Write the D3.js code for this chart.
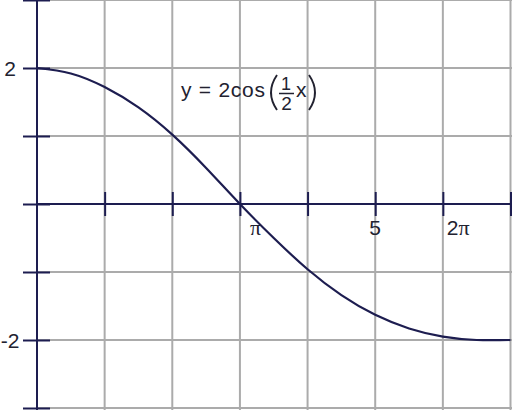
<!DOCTYPE html>
<html>
<head>
<meta charset="utf-8">
<script src="https://cdn.jsdelivr.net/npm/d3@7"></script>
<style>
  html, body { margin: 0; padding: 0; background: #fff; }
  svg { display: block; }
</style>
</head>
<body>
<svg id="chart" width="512" height="410"></svg>
<script>
// ---- data ----
const curveX = [0, 0.5, 1, 1.5, 2, 2.5, 3, 3.5, 4, 4.5, 5, 5.5, 6, 6.5, 7];
const curveY = [2.0, 1.92, 1.72, 1.42, 1.02, 0.53, 0.0, -0.50, -0.96, -1.34, -1.63, -1.83, -1.95, -2.0, -2.0];
const xTicks = [1, 2, 3, 4, 5, 6, 7];
const yTicks = [-3, -2, -1, 0, 1, 2, 3];
const xLabelValues = [3, 5, 6];
const xLabelTexts = [["", "π"], ["5", ""], ["2", "π"]];
const yLabelValues = [2, -2];
const yLabelTexts = ["2", "-2"];
const eqText = "y = 2cos";
const eqNum = "1";
const eqDen = "2";
const eqVar = "x";

// ---- drawing ----
const W = 512, H = 410;
const ink = "#1d1d50";
const textCol = "#222230";
const gridCol = "#ababab";
const sans = "'Liberation Sans', Arial, sans-serif";
const serif = "'Liberation Serif', 'Times New Roman', serif";

const svg = d3.select("#chart");
const x = d3.scaleLinear().domain([0, 7]).range([37, 510.5]);
const y = d3.scaleLinear().domain([-3, 3]).range([408, 0]);

// grid
const grid = svg.append("g");
grid.selectAll("line.v").data(xTicks).join("line")
  .attr("x1", d => x(d)).attr("x2", d => x(d))
  .attr("y1", 0).attr("y2", H)
  .attr("stroke", gridCol).attr("stroke-width", 2);
grid.selectAll("line.h").data(yTicks).join("line")
  .attr("x1", x(0)).attr("x2", W)
  .attr("y1", d => y(d)).attr("y2", d => y(d))
  .attr("stroke", gridCol).attr("stroke-width", 2);

// x axis
const xAxis = svg.append("g")
  .attr("transform", `translate(0,${y(0)})`)
  .call(d3.axisBottom(x).tickValues(xTicks).tickSize(12).tickFormat(""));
xAxis.select(".domain").remove();
xAxis.selectAll(".tick line").attr("y1", -12).attr("y2", 12)
  .attr("stroke", ink).attr("stroke-width", 2);
svg.append("line")
  .attr("x1", x(0)).attr("x2", W)
  .attr("y1", y(0)).attr("y2", y(0))
  .attr("stroke", ink).attr("stroke-width", 2);

// y axis
const yAxis = svg.append("g")
  .attr("transform", `translate(${x(0)},0)`)
  .call(d3.axisLeft(y).tickValues(yTicks).tickSize(13).tickFormat(""));
yAxis.select(".domain").remove();
yAxis.selectAll(".tick line").attr("x1", -14).attr("x2", 13)
  .attr("stroke", ink).attr("stroke-width", 2);
svg.append("line")
  .attr("x1", x(0)).attr("x2", x(0))
  .attr("y1", 0).attr("y2", H)
  .attr("stroke", ink).attr("stroke-width", 2);

// curve
const pts = curveX.map((d, i) => [d, curveY[i]]);
svg.append("path")
  .datum(pts)
  .attr("fill", "none")
  .attr("stroke", ink)
  .attr("stroke-width", 2.2)
  .attr("d", d3.line().x(d => x(d[0])).y(d => y(d[1])).curve(d3.curveNatural));

// x labels
const xl = svg.append("g").attr("fill", textCol);
xLabelValues.forEach((v, i) => {
  const [num, sym] = xLabelTexts[i];
  const t = xl.append("text")
    .attr("y", y(0) + 31)
    .attr("font-size", 21);
  if (sym === "") {
    t.attr("x", x(v)).attr("text-anchor", "middle")
     .attr("font-family", sans).text(num);
  } else {
    t.attr("x", x(v) + (num ? 4 : 10)).attr("text-anchor", "start");
    if (num) t.append("tspan").attr("font-family", sans).text(num);
    t.append("tspan").attr("font-family", serif).attr("font-size", 22).text(sym);
  }
});

// y labels
svg.append("g").selectAll("text").data(yLabelValues).join("text")
  .attr("x", 10).attr("y", d => y(d) + 8)
  .attr("text-anchor", "middle")
  .attr("font-family", sans).attr("font-size", 21)
  .attr("fill", textCol)
  .text((d, i) => yLabelTexts[i]);

// equation
const eq = svg.append("g").attr("fill", textCol).attr("font-family", sans);
eq.append("text").attr("x", 181).attr("y", 97).attr("font-size", 21)
  .attr("textLength", 84).attr("lengthAdjust", "spacing").text(eqText);
eq.append("path").attr("d", "M277,75 Q265,92.5 277,110")
  .attr("fill", "none").attr("stroke", textCol).attr("stroke-width", 1.9);
eq.append("text").attr("x", 286).attr("y", 90).attr("font-size", 18)
  .attr("text-anchor", "middle").text(eqNum);
eq.append("line").attr("x1", 279).attr("x2", 294).attr("y1", 93.5).attr("y2", 93.5)
  .attr("stroke", textCol).attr("stroke-width", 1.5);
eq.append("text").attr("x", 286.5).attr("y", 110).attr("font-size", 19)
  .attr("text-anchor", "middle").text(eqDen);
eq.append("text").attr("x", 296).attr("y", 97).attr("font-size", 21).text(eqVar);
eq.append("path").attr("d", "M309,75 Q321,92.5 309,110")
  .attr("fill", "none").attr("stroke", textCol).attr("stroke-width", 1.9);
</script>
</body>
</html>
